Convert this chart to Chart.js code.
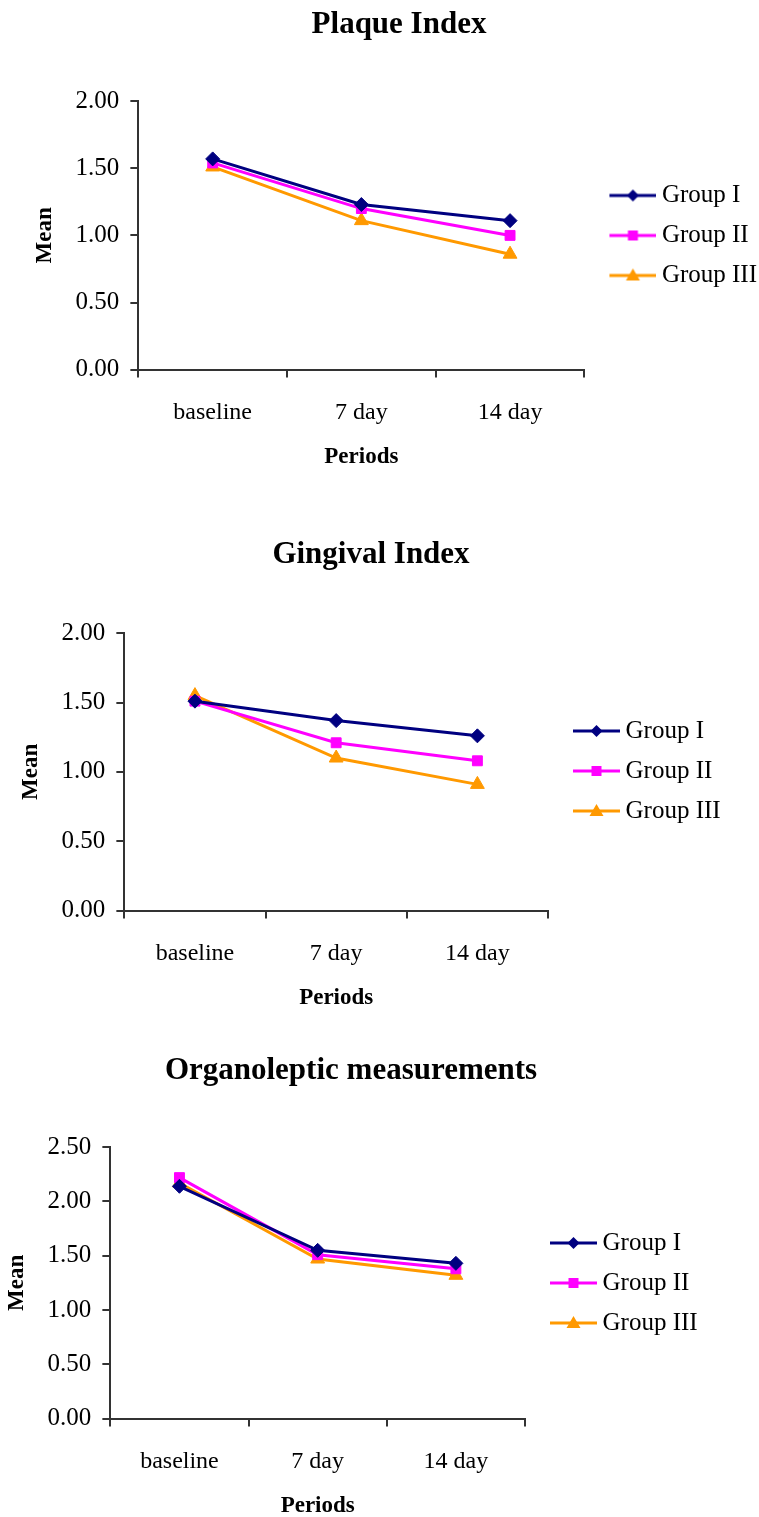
<!DOCTYPE html>
<html>
<head>
<meta charset="utf-8">
<script src="https://cdn.jsdelivr.net/npm/chart.js@4/dist/chart.umd.min.js"></script>
<style>
  html, body { margin: 0; padding: 0; background: #fff; }
  body { width: 759px; height: 1517px; position: relative; overflow: hidden; }
  .box { position: absolute; }
</style>
</head>
<body>
<div class="box" id="b1" style="left:31px; top:0px; width:736px; height:471px;"><canvas id="c1"></canvas></div>
<div class="box" id="b2" style="left:17px; top:530px; width:708px; height:482px;"><canvas id="c2"></canvas></div>
<div class="box" id="b3" style="left:3px; top:1046px; width:696px; height:474px;"><canvas id="c3"></canvas></div>
<script>
// ---- data ----
const categories = ['baseline', '7 day', '14 day'];
const seriesNames = ['Group I', 'Group II', 'Group III'];

const plaqueTitle = 'Plaque Index';
const plaqueG1 = [1.57, 1.23, 1.11];
const plaqueG2 = [1.54, 1.20, 1.00];
const plaqueG3 = [1.51, 1.11, 0.86];
const plaqueYMax = 2.0;

const gingivalTitle = 'Gingival Index';
const gingivalG1 = [1.51, 1.37, 1.26];
const gingivalG2 = [1.51, 1.21, 1.08];
const gingivalG3 = [1.55, 1.10, 0.91];
const gingivalYMax = 2.0;

const organoTitle = 'Organoleptic measurements';
const organoG1 = [2.14, 1.55, 1.43];
const organoG2 = [2.22, 1.51, 1.38];
const organoG3 = [2.17, 1.47, 1.32];
const organoYMax = 2.5;

const yStep = 0.5;
const xTitle = 'Periods';
const yTitle = 'Mean';

// ---- styles ----
const colors = ['#000080', '#FF00FF', '#FF9900'];
const styles = ['rectRot', 'rect', 'triangle'];
const radii = [7, 7, 8];
const FONT = '"Liberation Serif", "Times New Roman", serif';
const AXIS = '#333333';

function legendImage(i) {
  const c = document.createElement('canvas');
  c.width = 64; c.height = 20;
  const g = c.getContext('2d');
  g.strokeStyle = colors[i]; g.lineWidth = 3;
  g.beginPath(); g.moveTo(17, 10); g.lineTo(64, 10); g.stroke();
  g.fillStyle = colors[i];
  const cx = 40.5, cy = 10;
  g.beginPath();
  if (i === 0) {
    g.moveTo(cx, cy - 6); g.lineTo(cx + 6, cy); g.lineTo(cx, cy + 6); g.lineTo(cx - 6, cy);
  } else if (i === 1) {
    g.rect(cx - 5, cy - 5, 10, 10);
  } else {
    g.moveTo(cx, cy - 7); g.lineTo(cx + 7, cy + 5); g.lineTo(cx - 7, cy + 5);
  }
  g.closePath(); g.fill();
  return c;
}
const legendImgs = [0, 1, 2].map(legendImage);

function makeChart(id, title, series, yMax, opts) {
  const datasets = series.map((vals, i) => ({
    label: seriesNames[i],
    data: vals,
    borderColor: colors[i],
    backgroundColor: colors[i],
    pointBackgroundColor: colors[i],
    pointBorderColor: colors[i],
    pointStyle: styles[i],
    pointRadius: radii[i],
    pointBorderWidth: 1,
    borderWidth: 3,
    tension: 0,
    fill: false
  }));
  return new Chart(document.getElementById(id), {
    type: 'line',
    data: { labels: categories, datasets },
    options: {
      responsive: true,
      maintainAspectRatio: false,
      animation: false,
      devicePixelRatio: 1,
      plugins: {
        title: {
          display: true,
          text: title,
          color: '#000',
          font: { family: FONT, size: 31, weight: 'bold' },
          padding: { top: 6, bottom: opts.titleBottom }
        },
        legend: {
          position: 'right',
          align: 'center',
          labels: {
            color: '#000',
            font: { family: FONT, size: 25 },
            usePointStyle: true,
            pointStyleWidth: 50,
            boxHeight: 18,
            padding: 15,
            generateLabels: (chart) => {
              const items = Chart.defaults.plugins.legend.labels.generateLabels(chart);
              items.forEach((it, i) => { it.pointStyle = legendImgs[i]; });
              return items;
            }
          }
        },
        tooltip: { enabled: false }
      },
      scales: {
        x: {
          type: 'category',
          offset: true,
          grid: { display: true, drawOnChartArea: false, drawTicks: true, tickLength: 8, offset: true, color: AXIS, lineWidth: 2 },
          border: { display: true, color: AXIS, width: 2 },
          ticks: { color: '#000', font: { family: FONT, size: 24 }, padding: 21 },
          title: { display: true, text: xTitle, color: '#000', font: { family: FONT, size: 23, weight: 'bold' }, padding: { top: -5, bottom: 0 } }
        },
        y: {
          min: 0,
          max: yMax,
          grid: { display: true, drawOnChartArea: false, drawTicks: true, tickLength: 8, color: AXIS, lineWidth: 2 },
          border: { display: true, color: AXIS, width: 2 },
          ticks: { stepSize: yStep, color: '#000', font: { family: FONT, size: 25 }, padding: 11, callback: (v) => Number(v).toFixed(2) },
          title: { display: true, text: yTitle, color: '#000', font: { family: FONT, size: 23, weight: 'bold' }, padding: { top: 0, bottom: 6 } }
        }
      }
    }
  });
}

makeChart('c1', plaqueTitle, [plaqueG1, plaqueG2, plaqueG3], plaqueYMax, { titleBottom: 58 });
makeChart('c2', gingivalTitle, [gingivalG1, gingivalG2, gingivalG3], gingivalYMax, { titleBottom: 60 });
makeChart('c3', organoTitle, [organoG1, organoG2, organoG3], organoYMax, { titleBottom: 58 });
</script>
</body>
</html>
